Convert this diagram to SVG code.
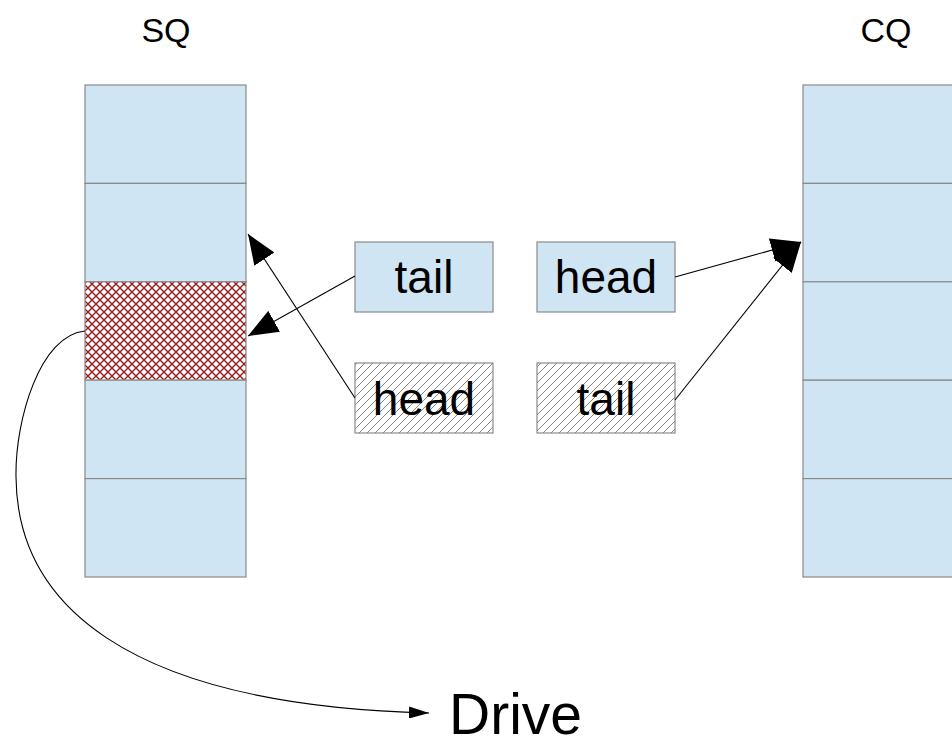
<svg xmlns="http://www.w3.org/2000/svg" width="952" height="740" viewBox="0 0 952 740">
  <style>
    .cell { fill: #cfe5f3; stroke: #8a8a8a; stroke-width: 1.2; }
    .box { fill: #cfe5f3; stroke: #8a8a8a; stroke-width: 1.2; }
    .hbox { fill: url(#hatch); stroke: #8a8a8a; stroke-width: 1.2; }
    .lbl { font-family: "Liberation Sans", Arial, sans-serif; fill: #000; text-anchor: middle; }
    .conn { fill: none; stroke: #000; stroke-width: 1.1; }
  </style>
  <defs>
    <pattern id="hatch" patternUnits="userSpaceOnUse" width="8" height="8">
      <rect width="8" height="8" fill="#fff"/>
      <path d="M-2,2 L2,-2 M0,8 L8,0 M6,10 L10,6" stroke="#777" stroke-width="0.9"/>
    </pattern>
    <pattern id="cross" patternUnits="userSpaceOnUse" width="8" height="8">
      <rect width="8" height="8" fill="#fff"/>
      <path d="M0,0 L8,8 M8,0 L0,8" stroke="#9e1a1a" stroke-width="1.4"/>
    </pattern>
    <marker id="big" markerUnits="userSpaceOnUse" viewBox="0 0 30 24" markerWidth="30" markerHeight="24" refX="30" refY="12" orient="auto">
      <path d="M0,0 L30,12 L0,24 Z" fill="#000"/>
    </marker>
    <marker id="small" markerUnits="userSpaceOnUse" viewBox="0 0 20 12" markerWidth="20" markerHeight="12" refX="20" refY="6" orient="auto">
      <path d="M0,0 L20,6 L0,12 Z" fill="#000"/>
    </marker>
  </defs>

  <text class="lbl" x="166" y="42" font-size="34">SQ</text>
  <text class="lbl" x="886" y="42" font-size="34">CQ</text>

  <g id="sq">
    <rect class="cell" x="85" y="85" width="161" height="98.4"/>
    <rect class="cell" x="85" y="183.4" width="161" height="98.4"/>
    <rect x="85" y="281.8" width="161" height="98.4" fill="url(#cross)" stroke="#8a8a8a" stroke-width="1.2"/>
    <rect class="cell" x="85" y="380.2" width="161" height="98.4"/>
    <rect class="cell" x="85" y="478.6" width="161" height="98.4"/>
  </g>

  <g id="cq">
    <rect class="cell" x="803" y="85" width="160" height="98.4"/>
    <rect class="cell" x="803" y="183.4" width="160" height="98.4"/>
    <rect class="cell" x="803" y="281.8" width="160" height="98.4"/>
    <rect class="cell" x="803" y="380.2" width="160" height="98.4"/>
    <rect class="cell" x="803" y="478.6" width="160" height="98.4"/>
  </g>

  <g id="sq-tail">
    <rect class="box" x="355" y="242" width="138" height="70"/>
    <text class="lbl" x="424" y="293" font-size="46">tail</text>
  </g>
  <g id="cq-head">
    <rect class="box" x="537" y="242" width="138" height="70"/>
    <text class="lbl" x="606" y="293" font-size="46">head</text>
  </g>
  <g id="sq-head">
    <rect class="hbox" x="355" y="363" width="138" height="70"/>
    <text class="lbl" x="424" y="415" font-size="46">head</text>
  </g>
  <g id="cq-tail">
    <rect class="hbox" x="537" y="363" width="138" height="70"/>
    <text class="lbl" x="606" y="415" font-size="46">tail</text>
  </g>

  <g id="drive">
    <text x="449" y="734" font-family="Liberation Sans, Arial, sans-serif" font-size="57" fill="#000">Drive</text>
  </g>

  <g id="connectors">
    <line class="conn" x1="355" y1="276" x2="248" y2="336" marker-end="url(#big)"/>
    <line class="conn" x1="355" y1="398" x2="248" y2="234" marker-end="url(#big)"/>
    <line class="conn" x1="675" y1="277" x2="801" y2="242" marker-end="url(#big)"/>
    <line class="conn" x1="675" y1="400" x2="801" y2="242" marker-end="url(#big)"/>
    <path class="conn" d="M85,331 C40,335 15,420 16,477 C17,600 120,705 429,713" marker-end="url(#small)"/>
  </g>
</svg>
